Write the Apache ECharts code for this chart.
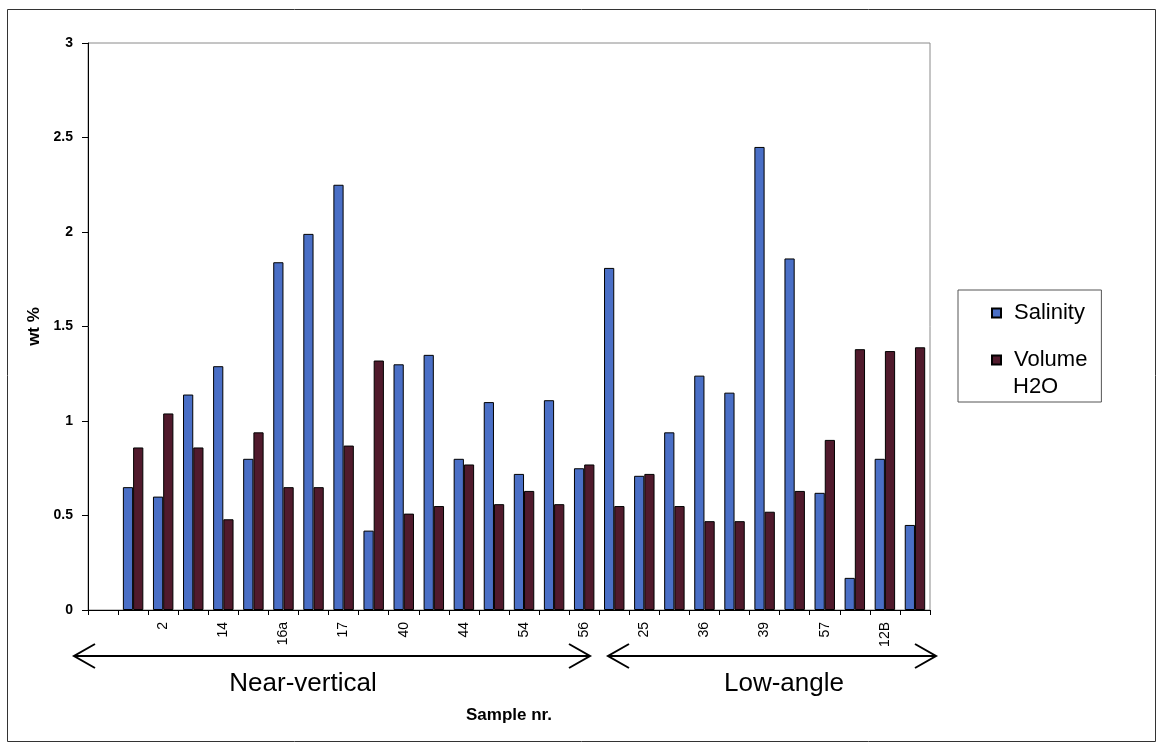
<!DOCTYPE html>
<html>
<head>
<meta charset="utf-8">
<title>Salinity and Volume H2O by sample</title>
<script src="https://cdn.jsdelivr.net/npm/echarts@6/dist/echarts.min.js"></script>
<style>
  html, body { margin: 0; padding: 0; background: #ffffff; }
  #chart { width: 1164px; height: 750px; }
</style>
</head>
<body>
<div id="chart"></div>
<script>
// Sample numbers (only every second one is printed on the axis)
const categories = ['', '', '2', '', '14', '', '16a', '', '17', '', '40', '', '44', '', '54', '',
                    '56', '', '25', '', '36', '', '39', '', '57', '', '12B', ''];

// Salinity, wt %
const salinity = [null, 0.65, 0.60, 1.14, 1.29, 0.80, 1.84, 1.99, 2.25, 0.42, 1.30, 1.35, 0.80, 1.10,
                  0.72, 1.11, 0.75, 1.81, 0.71, 0.94, 1.24, 1.15, 2.45, 1.86, 0.62, 0.17, 0.80, 0.45];

// Volume H2O, wt %
const volumeH2O = [null, 0.86, 1.04, 0.86, 0.48, 0.94, 0.65, 0.65, 0.87, 1.32, 0.51, 0.55, 0.77, 0.56,
                   0.63, 0.56, 0.77, 0.55, 0.72, 0.55, 0.47, 0.47, 0.52, 0.63, 0.90, 1.38, 1.37, 1.39];

const yTicks = { min: 0, max: 3, step: 0.5 };

const chart = echarts.init(document.getElementById('chart'), null, { renderer: 'canvas' });
const FONT = '"Liberation Sans", Arial, sans-serif';

// Double-headed open arrow between two x positions at height y
function arrow(x1, x2, y) {
  const hx = 21, hy = 12;
  return {
    type: 'group',
    children: [
      { type: 'line', shape: { x1: x1, y1: y, x2: x2, y2: y }, style: { stroke: '#000', lineWidth: 2 } },
      { type: 'polyline', shape: { points: [[x1 + hx, y - hy], [x1, y], [x1 + hx, y + hy]] },
        style: { stroke: '#000', lineWidth: 2, fill: null } },
      { type: 'polyline', shape: { points: [[x2 - hx, y - hy], [x2, y], [x2 - hx, y + hy]] },
        style: { stroke: '#000', lineWidth: 2, fill: null } }
    ]
  };
}

const option = {
  backgroundColor: '#ffffff',
  animation: false,
  textStyle: { fontFamily: FONT },
  grid: {
    left: 88, right: 234, top: 43, bottom: 140,
    show: true, borderColor: '#8a8a8a', borderWidth: 1, backgroundColor: 'transparent'
  },
  legend: {
    orient: 'vertical',
    left: 958, top: 290,
    padding: [12, 14, 31, 33],
    itemGap: 25,
    itemWidth: 9, itemHeight: 9,
    icon: 'rect',
    borderColor: '#555', borderWidth: 1,
    textStyle: { fontSize: 22, lineHeight: 22, color: '#000', fontFamily: FONT, padding: [0, 0, 0, 8] },
    data: ['Salinity', 'Volume H2O'],
    formatter: function (name) { return name === 'Volume H2O' ? 'Volume' : name; }
  },
  xAxis: {
    type: 'category',
    data: categories,
    name: 'Sample nr.',
    nameLocation: 'middle',
    nameGap: 97,
    nameTextStyle: { fontSize: 17, fontWeight: 'bold', color: '#000', fontFamily: FONT },
    axisLine: { lineStyle: { color: '#000', width: 1 } },
    axisTick: { show: true, interval: 0, length: 5, lineStyle: { color: '#000' } },
    axisLabel: { interval: 0, rotate: 90, margin: 12, fontSize: 14, color: '#000', fontFamily: FONT },
    splitLine: { show: false }
  },
  yAxis: {
    type: 'value',
    min: yTicks.min, max: yTicks.max, interval: yTicks.step,
    name: 'wt %',
    nameLocation: 'middle',
    nameGap: 45,
    nameTextStyle: { fontSize: 17, fontWeight: 'bold', color: '#000', fontFamily: FONT },
    axisLine: { show: true, lineStyle: { color: '#000', width: 1 } },
    axisTick: { show: true, length: 6, lineStyle: { color: '#000' } },
    axisLabel: { margin: 15, fontSize: 14, fontWeight: 'bold', color: '#000', fontFamily: FONT },
    splitLine: { show: false }
  },
  series: [
    {
      name: 'Salinity', type: 'bar', data: salinity,
      barGap: '0%', barCategoryGap: '32%',
      itemStyle: { color: '#4a6fc6', borderColor: '#000', borderWidth: 1 }
    },
    {
      name: 'Volume H2O', type: 'bar', data: volumeH2O,
      barGap: '0%', barCategoryGap: '32%',
      itemStyle: { color: '#501a2c', borderColor: '#000', borderWidth: 1 }
    }
  ],
  graphic: [
    // outer frame
    { type: 'rect', shape: { x: 7.5, y: 9.5, width: 1148, height: 732 },
      style: { fill: null, stroke: '#333', lineWidth: 1 }, silent: true },
    // second line of the legend entry
    { type: 'text', left: 1013, top: 376,
      style: { text: 'H2O', font: '22px ' + FONT, fill: '#000' } },
    // group arrows and captions under the axis
    arrow(74, 590, 656),
    arrow(608, 936, 656),
    { type: 'text', x: 303, y: 684,
      style: { text: 'Near-vertical', font: '26px ' + FONT, fill: '#000', align: 'center', verticalAlign: 'middle' } },
    { type: 'text', x: 784, y: 684,
      style: { text: 'Low-angle', font: '26px ' + FONT, fill: '#000', align: 'center', verticalAlign: 'middle' } }
  ]
};

chart.setOption(option);
</script>
</body>
</html>
